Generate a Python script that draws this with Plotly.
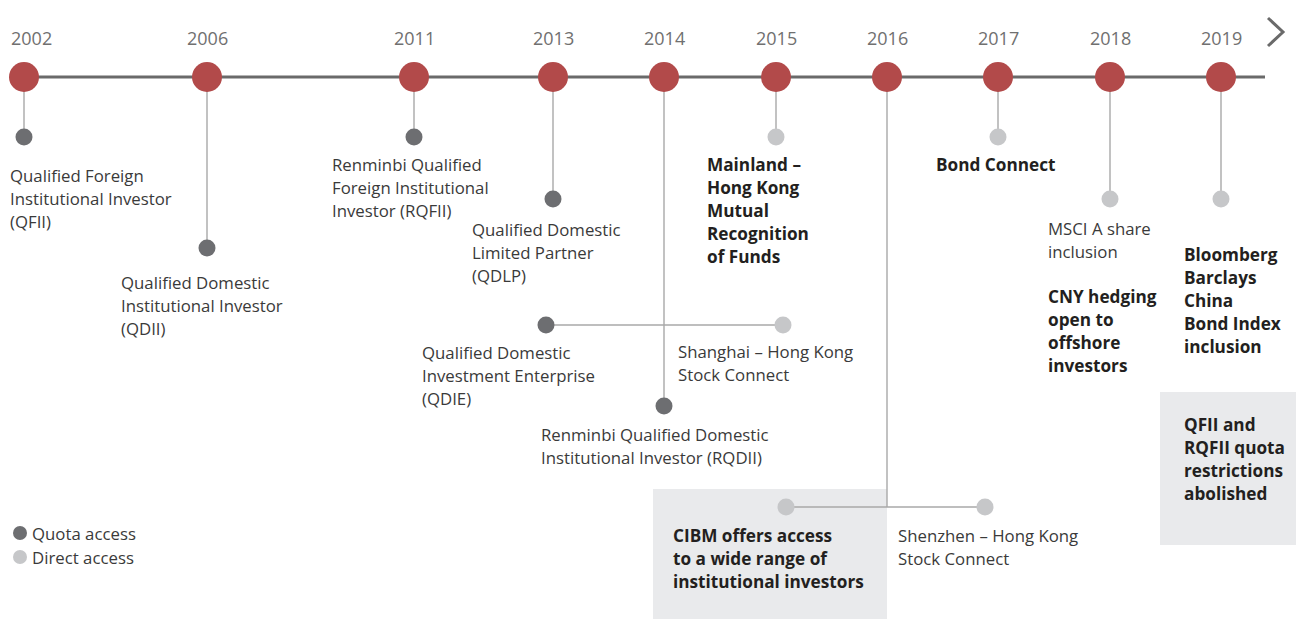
import plotly.graph_objects as go

# ---------------- data ----------------
years = ["2002", "2006", "2011", "2013", "2014", "2015", "2016", "2017", "2018", "2019"]

events_quota = [
    ("2002", ["Qualified Foreign", "Institutional Investor", "(QFII)"]),
    ("2006", ["Qualified Domestic", "Institutional Investor", "(QDII)"]),
    ("2011", ["Renminbi Qualified", "Foreign Institutional", "Investor (RQFII)"]),
    ("2013", ["Qualified Domestic", "Limited Partner", "(QDLP)"]),
    ("2014", ["Qualified Domestic", "Investment Enterprise", "(QDIE)"]),
    ("2014", ["Renminbi Qualified Domestic", "Institutional Investor (RQDII)"]),
]
events_direct = [
    ("2014", ["Shanghai – Hong Kong", "Stock Connect"]),
    ("2015", ["Mainland –", "Hong Kong", "Mutual", "Recognition", "of Funds"]),
    ("2016", ["CIBM offers access", "to a wide range of", "institutional investors"]),
    ("2016", ["Shenzhen – Hong Kong", "Stock Connect"]),
    ("2017", ["Bond Connect"]),
    ("2018", ["MSCI A share", "inclusion"]),
    ("2019", []),
]
extra_notes = [
    ("2018", ["CNY hedging", "open to", "offshore", "investors"]),
    ("2019", ["Bloomberg", "Barclays", "China", "Bond Index", "inclusion"]),
    ("2019", ["QFII and", "RQFII quota", "restrictions", "abolished"]),
]
legend_labels = ["Quota access", "Direct access"]

# ---------------- layout / styles ----------------
W, H = 1296, 619
YEAR_X = {"2002": 24, "2006": 207, "2011": 414, "2013": 553, "2014": 664,
          "2015": 776, "2016": 887, "2017": 998, "2018": 1110, "2019": 1221}
YEAR_LABEL_SHIFT = {"2002": 7}
LINE_Y = 77
RED = "#b24a4a"
DARK = "#6d6e71"
LIGHT = "#c6c7c9"
STEM = "#a8a8a8"
TXT = "#3a3a3a"
BOLD_TXT = "#231f20"
BOX = "#e9eaec"
FONT = "Open Sans"
FS = 16.8
FSB = 17.2
LH = 23.2

fig = go.Figure()
annotations = []
shapes = []


def text_block(x, y0, lines, bold=False, color=None):
    for i, ln in enumerate(lines):
        annotations.append(dict(
            x=x, y=y0 + i * LH, xref="x", yref="y", text=(f"<b>{ln}</b>" if bold else ln),
            showarrow=False, xanchor="left", yanchor="middle", borderpad=0, borderwidth=0,
            font=dict(family=FONT, size=(FSB if bold else FS),
                      color=color or (BOLD_TXT if bold else TXT)),
        ))


def line(xs, ys, color=STEM, width=1.4):
    fig.add_trace(go.Scatter(x=xs, y=ys, mode="lines", line=dict(color=color, width=width),
                             hoverinfo="skip", showlegend=False))


# grey boxes
shapes.append(dict(type="rect", xref="x", yref="y", x0=653, x1=887, y0=489, y1=619,
                   fillcolor=BOX, line=dict(width=0), layer="below"))
shapes.append(dict(type="rect", xref="x", yref="y", x0=1160, x1=1296, y0=392, y1=545,
                   fillcolor=BOX, line=dict(width=0), layer="below"))

# stems
stem_end = {"2002": 137, "2006": 248, "2011": 137, "2013": 199, "2014": 406,
            "2015": 137, "2016": 507, "2017": 137, "2018": 199, "2019": 199}
for yr in years:
    line([YEAR_X[yr], YEAR_X[yr]], [LINE_Y, stem_end[yr]])
# horizontal branches
line([546, 783], [325, 325])
line([786, 985], [507, 507])

# main timeline
line([10, 1265], [LINE_Y, LINE_Y], color="#6a6a6a", width=3)
# chevron
line([1268, 1283, 1268], [18, 32, 46], color="#6a6a6a", width=3)

# dots
dark_pts = [(24, 137), (207, 248), (414, 137), (553, 199), (546, 325), (664, 406)]
light_pts = [(783, 325), (776, 137), (786, 507), (985, 507), (998, 137), (1110, 199), (1221, 199)]
fig.add_trace(go.Scatter(x=[p[0] for p in dark_pts], y=[p[1] for p in dark_pts], mode="markers",
                         marker=dict(size=17, color=DARK), hoverinfo="skip", showlegend=False))
fig.add_trace(go.Scatter(x=[p[0] for p in light_pts], y=[p[1] for p in light_pts], mode="markers",
                         marker=dict(size=17, color=LIGHT), hoverinfo="skip", showlegend=False))

# year milestones
fig.add_trace(go.Scatter(x=[YEAR_X[y] for y in years], y=[LINE_Y] * len(years), mode="markers",
                         marker=dict(size=30, color=RED), hoverinfo="skip", showlegend=False))
for yr in years:
    annotations.append(dict(x=YEAR_X[yr] + YEAR_LABEL_SHIFT.get(yr, 0), y=38, xref="x", yref="y",
                            text=yr, showarrow=False, xanchor="center", yanchor="middle",
                            borderpad=0, borderwidth=0,
                            font=dict(family=FONT, size=18, color="#707070")))

# event texts
pos_q = [(10, 175), (121, 282), (332, 164), (472, 229), (422, 352), (541, 434)]
for (yr, lines), (x, y) in zip(events_quota, pos_q):
    text_block(x, y, lines)

pos_d = [(678, 351, False), (707, 164, True), (673, 535, True), (898, 535, False),
         (936, 164, True), (1048, 228, False), (1184, 254, False)]
for (yr, lines), (x, y, b) in zip(events_direct, pos_d):
    text_block(x, y, lines, bold=b)

pos_e = [(1048, 296), (1184, 254), (1184, 424)]
for (yr, lines), (x, y) in zip(extra_notes, pos_e):
    text_block(x, y, lines, bold=True)

# legend
fig.add_trace(go.Scatter(x=[20, 20], y=[533, 557], mode="markers",
                         marker=dict(size=14, color=[DARK, LIGHT]), hoverinfo="skip", showlegend=False))
for lab, y in zip(legend_labels, [533, 557]):
    annotations.append(dict(x=32, y=y, xref="x", yref="y", text=lab, showarrow=False,
                            xanchor="left", yanchor="middle", borderpad=0, borderwidth=0,
                            font=dict(family=FONT, size=16.8, color=TXT)))

fig.update_layout(
    width=W, height=H, margin=dict(l=0, r=0, t=0, b=0),
    paper_bgcolor="white", plot_bgcolor="white",
    xaxis=dict(range=[0, W], visible=False, fixedrange=True),
    yaxis=dict(range=[H, 0], visible=False, fixedrange=True),
    annotations=annotations, shapes=shapes, showlegend=False,
)

fig.write_html("out.html", config={"displayModeBar": False},
               post_script="document.body.style.margin='0';")
